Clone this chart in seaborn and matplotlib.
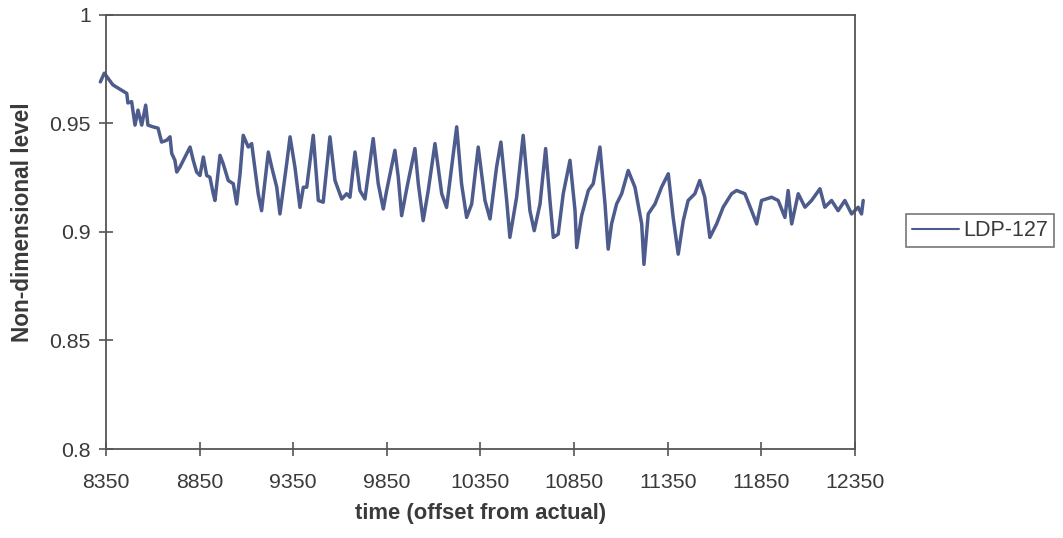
import matplotlib
matplotlib.use("Agg")
import matplotlib.pyplot as plt
import seaborn as sns
import pandas as pd

# ---- data ----
time = [8320, 8341, 8387, 8461, 8467, 8487, 8505, 8521, 8541, 8562, 8574, 8601,
        8628, 8647, 8674, 8692, 8701, 8718, 8728, 8745, 8772, 8799, 8816, 8834,
        8852, 8870, 8888, 8905, 8923, 8932, 8959, 8976, 9003, 9030, 9048, 9066,
        9083, 9110, 9128, 9163, 9181, 9217, 9235, 9262, 9279, 9315, 9333, 9359,
        9386, 9404, 9422, 9457, 9484, 9510, 9546, 9573, 9609, 9635, 9653, 9680,
        9706, 9733, 9777, 9804, 9831, 9849, 9893, 9911, 9929, 9956, 10000, 10018,
        10044, 10071, 10107, 10143, 10169, 10223, 10249, 10276, 10303, 10338, 10374, 10401,
        10436, 10459, 10490, 10507, 10543, 10578, 10614, 10637, 10668, 10698, 10721, 10739,
        10765, 10792, 10828, 10855, 10864, 10890, 10926, 10952, 10988, 11015, 11032, 11050,
        11077, 11104, 11139, 11175, 11211, 11223, 11246, 11282, 11317, 11353, 11379, 11406,
        11433, 11459, 11495, 11521, 11548, 11575, 11611, 11646, 11691, 11718, 11762, 11798,
        11825, 11851, 11905, 11940, 11976, 11993, 12012, 12047, 12083, 12118, 12163, 12189,
        12225, 12260, 12296, 12332, 12367, 12385, 12394]

level = [0.969, 0.973, 0.9676, 0.9637, 0.9593, 0.9599, 0.9491, 0.956, 0.9491, 0.9583, 0.9491, 0.9483,
         0.9477, 0.9413, 0.9421, 0.9437, 0.9361, 0.9329, 0.9275, 0.9298, 0.9344, 0.939, 0.9329, 0.9275,
         0.9259, 0.9344, 0.9259, 0.9251, 0.9175, 0.9144, 0.9352, 0.9313, 0.9236, 0.9221, 0.9128, 0.9267,
         0.9444, 0.939, 0.9406, 0.9175, 0.9097, 0.9367, 0.9298, 0.9205, 0.9082, 0.9313, 0.9437, 0.9298,
         0.9112, 0.9205, 0.9205, 0.9444, 0.9144, 0.9136, 0.9437, 0.9236, 0.9151, 0.9175, 0.9159, 0.9367,
         0.919, 0.9151, 0.9429, 0.9221, 0.9105, 0.919, 0.9375, 0.9251, 0.9074, 0.9198, 0.9383, 0.9221,
         0.9051, 0.919, 0.9406, 0.9175, 0.9112, 0.9483, 0.9221, 0.9066, 0.9128, 0.939, 0.9144, 0.9059,
         0.9298, 0.9413, 0.9144, 0.8974, 0.9159, 0.9444, 0.9097, 0.9005, 0.9128, 0.9383, 0.9144, 0.8974,
         0.8989, 0.9175, 0.9329, 0.9097, 0.8927, 0.9074, 0.919, 0.9221, 0.939, 0.9128, 0.892, 0.9036,
         0.9128, 0.9175, 0.9282, 0.9205, 0.9036, 0.885, 0.9082, 0.9128, 0.9205, 0.9267, 0.9066, 0.8897,
         0.9051, 0.9144, 0.9175, 0.9236, 0.9159, 0.8974, 0.9036, 0.9113, 0.9175, 0.919, 0.9175, 0.9097,
         0.9036, 0.9144, 0.9159, 0.9144, 0.9066, 0.919, 0.9036, 0.9175, 0.9113, 0.9144, 0.9198, 0.9113,
         0.9144, 0.9097, 0.9144, 0.9082, 0.9113, 0.9082, 0.9144]

series_name = "LDP-127"
x_ticks = [8350, 8850, 9350, 9850, 10350, 10850, 11350, 11850, 12350]
y_ticks = [0.8, 0.85, 0.9, 0.95, 1.0]
y_ticklabels = ["0.8", "0.85", "0.9", "0.95", "1"]

df = pd.DataFrame({"time": time, "level": level, "series": series_name})

sns.set_style("white")
plt.rcParams["font.family"] = ["Liberation Sans", "DejaVu Sans"]

fig = plt.figure(figsize=(10.63, 5.38), dpi=100)
ax = fig.add_axes([0.0997, 0.1654, 0.7046, 0.8076])

line_color = "#4d5c8c"
sns.lineplot(data=df, x="time", y="level", hue="series", palette=[line_color],
             linewidth=2.5, ax=ax, estimator=None, sort=False)
for ln in ax.get_lines():
    ln.set_clip_on(False)

ax.set_xlim(8350, 12350)
ax.set_ylim(0.8, 1.0)
ax.set_xticks(x_ticks)
ax.set_xticklabels([str(v) for v in x_ticks])
ax.set_yticks(y_ticks)
ax.set_yticklabels(y_ticklabels)

txt_color = "#3a3a3a"
ax.tick_params(axis="both", which="major", direction="inout", length=10, width=1.2,
               color="#555555", labelsize=15.3, labelcolor=txt_color,
               bottom=True, left=True, top=False, right=False)
ax.tick_params(axis="y", pad=6)
ax.tick_params(axis="x", pad=12)
for s in ax.spines.values():
    s.set_visible(True)
    s.set_color("#555555")
    s.set_linewidth(1.3)

ax.set_xlabel("time (offset from actual)", fontsize=15.8, fontweight="bold",
              color=txt_color, labelpad=8)
ax.set_ylabel("Non-dimensional level", fontsize=16.3, fontweight="bold",
              color=txt_color)
ax.yaxis.set_label_coords(-0.096, 0.523)

leg = ax.legend(loc="center left", bbox_to_anchor=(1.068, 0.502), frameon=True,
                fancybox=False, fontsize=15.5, handlelength=2.2, handletextpad=0.2,
                borderpad=0.28, borderaxespad=0, labelcolor=txt_color)
leg.get_frame().set_edgecolor("#555555")
leg.get_frame().set_linewidth(1.2)
for h in leg.get_lines():
    h.set_linewidth(1.5)

fig.savefig("out.png", dpi=100, facecolor="white")
